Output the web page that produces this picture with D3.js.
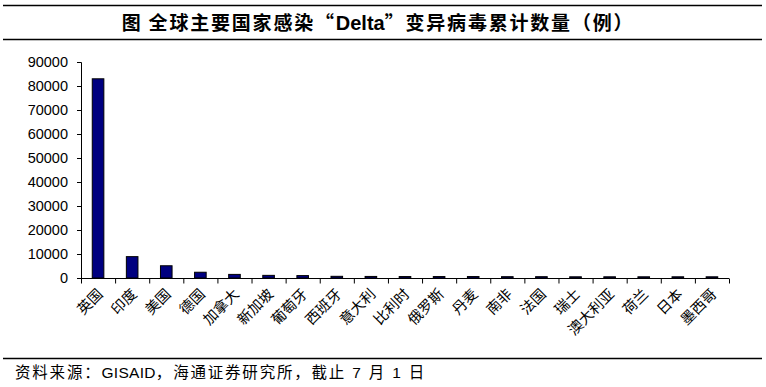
<!DOCTYPE html>
<html><head><meta charset="utf-8">
<script src="https://cdn.jsdelivr.net/npm/d3@7"></script>
<style>body{margin:0;background:#fff}svg{display:block}</style>
</head><body>
<script>
const categories = ["英国","印度","美国","德国","加拿大","新加坡","葡萄牙","西班牙","意大利","比利时","俄罗斯","丹麦","南非","法国","瑞士","澳大利亚","荷兰","日本","墨西哥"];
const values = [83000,8900,5100,2400,1500,1100,1000,700,650,600,600,600,550,550,500,500,500,500,500];
const yTicks = [0,10000,20000,30000,40000,50000,60000,70000,80000,90000];
const titleParts = [["图  全球主要国家感染“",1.8],["Delta",0],["”变异病毒累计数量（例）",1.8]];
const sourceParts = [["资料来源：",1.8],["GISAID",0.3],["，海通证券研究所，截止 7 月 1 日",1.8]];

const W = 766, H = 387;
const svg = d3.select("body").append("svg").attr("width", W).attr("height", H);

// header lines
svg.append("line").attr("x1",3).attr("x2",762).attr("y1",5.5).attr("y2",5.5).attr("stroke","#000").attr("stroke-width",1.5);
svg.append("line").attr("x1",3).attr("x2",762).attr("y1",39.5).attr("y2",39.5).attr("stroke","#000").attr("stroke-width",1.5);
const title = svg.append("text").attr("x",378).attr("y",30).attr("text-anchor","middle")
  .attr("font-family","'Noto Sans CJK SC', sans-serif").attr("font-weight","bold").attr("font-size",19);
title.selectAll("tspan").data(titleParts).join("tspan")
  .attr("font-family", d => d[1] === 0 ? "Arial, 'Liberation Sans', sans-serif" : null)
  .attr("font-size", d => d[1] === 0 ? 20 : null)
  .attr("letter-spacing", d => d[1] + "px").text(d => d[0]);

// footer
svg.append("line").attr("x1",3).attr("x2",762).attr("y1",358.5).attr("y2",358.5).attr("stroke","#000").attr("stroke-width",1.5);
const src = svg.append("text").attr("x",15).attr("y",378)
  .attr("font-family","Arial, 'Liberation Sans', 'Noto Sans CJK SC', sans-serif").attr("font-size",15.5);
src.selectAll("tspan").data(sourceParts).join("tspan")
  .attr("letter-spacing", d => d[1] + "px").text(d => d[0]);

const x = d3.scaleBand().domain(categories).range([81,729]).paddingInner(0.66).paddingOuter(0.33);
const y = d3.scaleLinear().domain([0,90000]).range([278,62]);

// bars
svg.append("g").selectAll("rect").data(categories).join("rect")
  .attr("x", d => x(d)).attr("width", x.bandwidth())
  .attr("y", (d,i) => y(values[i])).attr("height", (d,i) => y(0) - y(values[i]))
  .attr("fill","#000080").attr("stroke","#000").attr("stroke-width",1);

// y axis
const yAxis = svg.append("g").attr("transform","translate(81,0)")
  .call(d3.axisLeft(y).tickValues(yTicks).tickSize(4).tickPadding(9).tickFormat(d3.format("d")));
yAxis.select(".domain").attr("d","M-4,62.5H0.5V278.5");
yAxis.selectAll("text").attr("font-family","Arial, 'Liberation Sans', sans-serif").attr("font-size",14.5).attr("fill","#000");
yAxis.selectAll("line").attr("stroke","#000");

// x axis
const step = x.step();
const xg = svg.append("g").attr("transform","translate(0,278.5)");
xg.append("line").attr("x1",81).attr("x2",729).attr("stroke","#000");
xg.selectAll("line.t").data(d3.range(categories.length+1)).join("line").attr("class","t")
  .attr("x1", i => 81 + i*step + 0.5).attr("x2", i => 81 + i*step + 0.5)
  .attr("y1",0).attr("y2",5).attr("stroke","#000");
xg.selectAll("text").data(categories).join("text")
  .attr("transform", d => `translate(${x(d)+x.bandwidth()/2+2},${13}) rotate(-45)`)
  .attr("text-anchor","end").attr("dy","0.35em")
  .attr("font-family","'Noto Sans CJK SC', sans-serif").attr("font-size",14.5).attr("fill","#000")
  .text(d => d);
</script>
</body></html>
